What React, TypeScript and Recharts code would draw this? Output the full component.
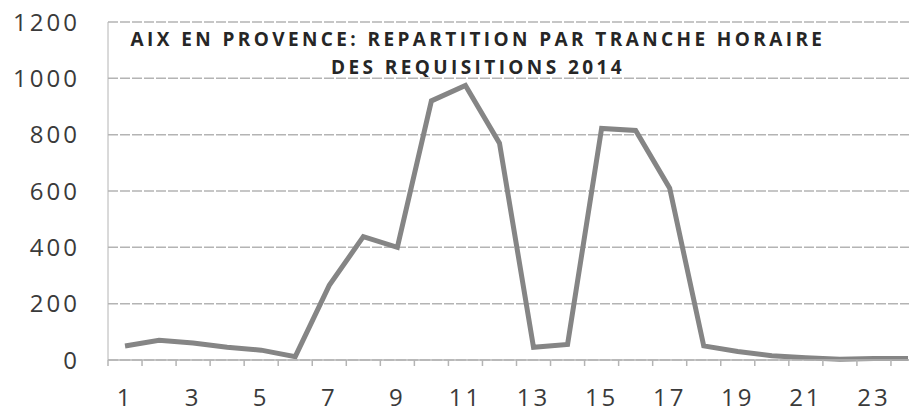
import { LineChart, Line, XAxis, YAxis, CartesianGrid } from "recharts";

const HOURS = [1, 2, 3, 4, 5, 6, 7, 8, 9, 10, 11, 12, 13, 14, 15, 16, 17, 18, 19, 20, 21, 22, 23, 24];
const REQUISITIONS = [50, 70, 60, 45, 35, 12, 265, 438, 400, 920, 975, 770, 45, 55, 822, 815, 610, 50, 30, 15, 8, 3, 5, 5];
const HOUR_LABELS = [1, 3, 5, 7, 9, 11, 13, 15, 17, 19, 21, 23];
const Y_TICKS = [0, 200, 400, 600, 800, 1000, 1200];

const TITLE_LINES = [
  "AIX EN PROVENCE: REPARTITION PAR TRANCHE HORAIRE",
  "DES REQUISITIONS 2014",
];

const data = HOURS.map((hour, i) => ({ hour, value: REQUISITIONS[i] }));

// labels on the odd hours, little tick marks on the hour boundaries
const xTicks = [0.5, ...HOURS.flatMap((h) => [h, h + 0.5])];

const FONT = "'Open Sans', sans-serif";
const TEXT = "#3a3a3a";
const GRID = "#b4b4b4";
const TICK_SIZE = 6;
const TICK_MARGIN = 23;

function HourTick(props: any) {
  const { x, y, payload } = props;
  const v = payload.value as number;
  const axisY = y - TICK_SIZE - TICK_MARGIN;
  if (!Number.isInteger(v)) {
    return <line x1={x} x2={x} y1={axisY} y2={axisY + 6} stroke={GRID} strokeWidth={1.5} />;
  }
  if (!HOUR_LABELS.includes(v)) return null;
  return (
    <text
      x={x}
      y={y}
      dy="0.71em"
      textAnchor="middle"
      fill={TEXT}
      fontFamily={FONT}
      fontSize={24}
      letterSpacing={3}
    >
      {v}
    </text>
  );
}

export default function App() {
  // negative margins cancel the body margin vertically so the chart fills the 416px window
  return (
    <div
      style={{
        position: "relative",
        width: 909,
        height: 416,
        marginTop: -8,
        marginBottom: -8,
        overflow: "hidden",
      }}
    >
      <LineChart
        width={917}
        height={416}
        data={data}
        margin={{ top: 22, right: 0, bottom: 8, left: 0 }}
      >
        <CartesianGrid vertical={false} stroke={GRID} strokeWidth={1.5} strokeDasharray="10 2" />
        <XAxis
          dataKey="hour"
          type="number"
          domain={[0.5, 24.5]}
          ticks={xTicks}
          interval={0}
          tick={<HourTick />}
          tickLine={false}
          tickSize={TICK_SIZE}
          tickMargin={TICK_MARGIN}
          axisLine={{ stroke: GRID, strokeWidth: 1.5 }}
          height={48}
        />
        <YAxis
          domain={[0, 1200]}
          ticks={Y_TICKS}
          interval={0}
          width={100}
          tickLine={false}
          tickMargin={22}
          axisLine={{ stroke: GRID, strokeWidth: 1 }}
          tick={{ fill: TEXT, fontFamily: FONT, fontSize: 24, letterSpacing: 3 }}
        />
        <Line
          dataKey="value"
          stroke="#858585"
          strokeWidth={5}
          dot={false}
          isAnimationActive={false}
        />
      </LineChart>
      <div
        style={{
          position: "absolute",
          left: 0,
          top: 25,
          width: 940,
          textAlign: "center",
          fontFamily: FONT,
          fontWeight: 700,
          fontSize: 19,
          lineHeight: "28px",
          letterSpacing: 3.4,
          color: "#262626",
        }}
      >
        {TITLE_LINES.map((t) => (
          <div key={t}>{t}</div>
        ))}
      </div>
    </div>
  );
}
